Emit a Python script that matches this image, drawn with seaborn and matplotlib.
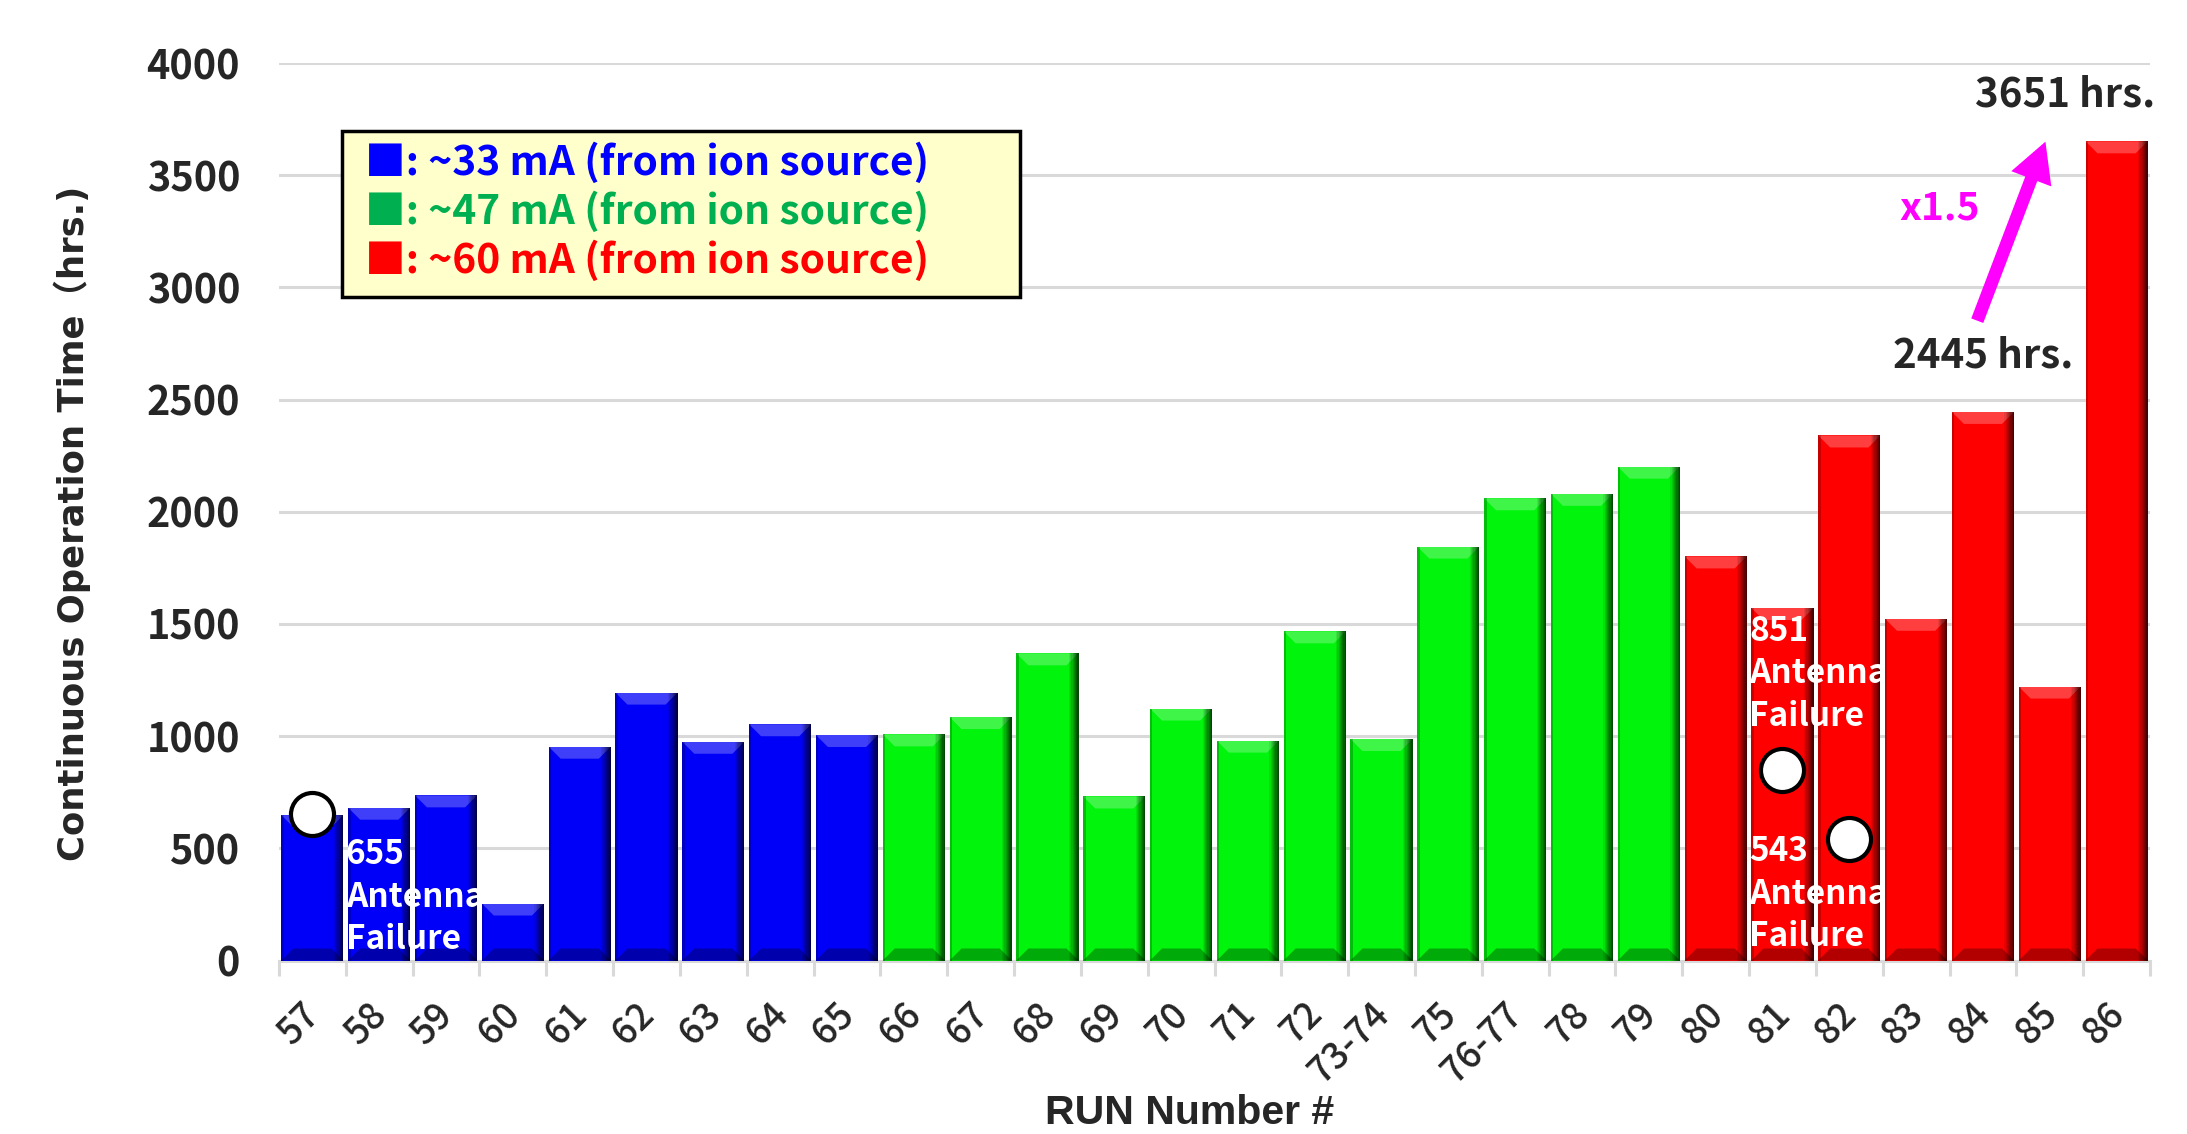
import matplotlib
matplotlib.use("Agg")
import matplotlib.pyplot as plt
from matplotlib.patches import Polygon, Rectangle
from matplotlib.transforms import ScaledTranslation
import seaborn as sns
import pandas as pd

# ---- data -------------------------------------------------------------
runs = ["57", "58", "59", "60", "61", "62", "63", "64", "65",
        "66", "67", "68", "69", "70", "71", "72", "73-74", "75", "76-77", "78", "79",
        "80", "81", "82", "83", "84", "85", "86"]
hours = [648, 681, 736, 254, 953, 1194, 975, 1053, 1005,
         1008, 1085, 1369, 731, 1123, 980, 1467, 987, 1845, 2060, 2080, 2201,
         1801, 1571, 2340, 1523, 2445, 1221, 3651]
beam = ["~33 mA"] * 9 + ["~47 mA"] * 12 + ["~60 mA"] * 7
beam_levels = ["~33 mA", "~47 mA", "~60 mA"]
bar_colors = ["#0000F8", "#00F40C", "#FF0000"]
legend_colors = ["#0000FF", "#00B050", "#FF0000"]

failure_runs = ["57", "81", "82"]
failure_hours = [655, 851, 543]

y_ticks = [0, 500, 1000, 1500, 2000, 2500, 3000, 3500, 4000]

df = pd.DataFrame({"run": runs, "hours": hours, "beam": beam})

# ---- figure -----------------------------------------------------------
sns.set_style("white")
plt.rcParams["font.family"] = ["Noto Sans CJK JP", "DejaVu Sans"]

W, H = 2187, 1134
fig = plt.figure(figsize=(W / 100, H / 100), dpi=100)
ax = fig.add_axes([279 / W, 1 - 960.5 / H, (2150 - 279) / W, (960.5 - 63) / H])

sns.barplot(data=df, x="run", y="hours", hue="beam", order=runs,
            hue_order=beam_levels, palette=dict(zip(beam_levels, bar_colors)),
            saturation=1, dodge=False, width=0.93, linewidth=0, legend=False,
            ax=ax, zorder=2)

ax.set_xlim(-0.5, len(runs) - 0.5)
ax.set_ylim(0, 4000)
ax.set_yticks(y_ticks)
ax.yaxis.grid(True, color="#D9D9D9", linewidth=2.2)
ax.set_axisbelow(True)
for s in ["left", "right", "top"]:
    ax.spines[s].set_visible(False)
ax.spines["bottom"].set_color("#D9D9D9")
ax.spines["bottom"].set_linewidth(2.2)
ax.spines["bottom"].set_zorder(1)
ax.set_xlabel("")
ax.set_ylabel("")

# bevelled look for every bar, built from each bar's own geometry
fig.canvas.draw()
px_x = ax.transData.transform((1, 0))[0] - ax.transData.transform((0, 0))[0]
px_y = ax.transData.transform((0, 1000))[1] - ax.transData.transform((0, 0))[1]
dx = 12 / px_x
dy = 12 / (px_y / 1000)
bars = list(ax.patches)
for p in bars:
    x0, w, top = p.get_x(), p.get_width(), p.get_height()
    x1 = x0 + w
    ax.add_patch(Polygon([(x0, top), (x1, top), (x1 - dx, top - dy), (x0 + dx, top - dy)],
                         closed=True, fc="white", alpha=0.25, lw=0, zorder=3))
    ax.add_patch(Polygon([(x0, 0), (x1, 0), (x1 - dx, dy), (x0 + dx, dy)],
                         closed=True, fc="black", alpha=0.3, lw=0, zorder=3))
    n = 8
    for i in range(n):
        xs = x1 - dx * 0.8 + i * dx * 0.8 / n
        ax.add_patch(Rectangle((xs, 0), dx * 0.8 / n, top, fc="black",
                               alpha=0.08 + 0.09 * i, lw=0, zorder=3))
    ax.add_patch(Rectangle((x0, 0), dx * 0.2, top, fc="black", alpha=0.22, lw=0, zorder=3))

# tick marks on the category boundaries
ax.set_xticks([i - 0.5 for i in range(len(runs) + 1)], minor=True)
ax.tick_params(axis="x", which="minor", length=11, width=2.2, color="#D9D9D9", bottom=True)
ax.tick_params(axis="x", which="major", length=0, pad=34)
ax.tick_params(axis="y", length=0, pad=28)
ax.set_xticks(range(len(runs)))
ax.set_xticklabels(runs, rotation=45, ha="right", va="center",
                   rotation_mode="anchor", fontsize=26.5, fontweight="medium")
offset = ScaledTranslation(1 / 100, 0, fig.dpi_scale_trans)
for lab in ax.get_xticklabels():
    lab.set_transform(lab.get_transform() + offset)
for lab in ax.get_yticklabels():
    lab.set_fontsize(28.5)
    lab.set_fontweight("bold")

# failure points
fail_x = [runs.index(r) for r in failure_runs]
ax.plot(fail_x, failure_hours, "o", ms=31, mfc="white", mec="black", mew=3,
        zorder=6, clip_on=False)

txt_kw = dict(color="white", fontsize=24, fontweight="bold", ha="left",
              va="center", linespacing=1.35, zorder=7)
ax.text(fail_x[0] + 0.5, 283, f"{failure_hours[0]}\nAntenna\nFailure", **txt_kw)
ax.text(fail_x[1] - 0.5, 1277, f"{failure_hours[1]}\nAntenna\nFailure", **txt_kw)
ax.text(fail_x[2] - 1.5, 296, f"{failure_hours[2]}\nAntenna\nFailure", **txt_kw)

# growth annotation
i84 = runs.index("84")
i86 = runs.index("86")
ax.text(i84, 2696, f"{hours[i84]} hrs.", fontsize=29, fontweight="bold",
        ha="center", va="center", zorder=7)
ax.text(i86 + 0.58, 3859, f"{hours[i86]} hrs.", fontsize=29, fontweight="bold",
        ha="right", va="center", zorder=7, clip_on=False)
ax.annotate("", xy=(i86 - 1.05, hours[i86] + 10), xytext=(i84 - 0.1, 2840),
            arrowprops=dict(arrowstyle="simple,head_length=1.3,head_width=1.4,tail_width=0.42",
                            fc="#FF00FF", ec="#FF00FF", lw=0, mutation_scale=22),
            zorder=7)
ax.text(i84 - 0.65, 3355, f"x{hours[i86] / hours[i84]:.1f}", color="#FF00FF",
        fontsize=28, fontweight="bold", ha="center", va="center", zorder=7)

# legend box
fig.patches.append(Rectangle((342 / W, 1 - 297 / H), 678 / W, 166 / H,
                             transform=fig.transFigure, fc="#FFFFCC", ec="black",
                             lw=2.5, zorder=5))
for k, (lvl, col) in enumerate(zip(beam_levels, legend_colors)):
    fig.text(365 / W, 1 - (163 + 49 * k) / H, f"■: {lvl} (from ion source)",
             color=col, fontsize=29.3, fontweight="bold", ha="left", va="center", zorder=6)

# axis titles
fig.text(72 / W, 1 - 523 / H, "Continuous Operation Time（hrs.)",
         rotation=90, ha="center", va="center", fontsize=25.5, fontweight="bold",
         family=["DejaVu Sans", "Noto Sans CJK JP"])
fig.text(1190 / W, 1 - 1113 / H, "RUN Number #", ha="center", va="center",
         fontsize=29.5, fontweight="bold", family=["Liberation Sans", "DejaVu Sans"])

fig.savefig("out.png", dpi=100)
